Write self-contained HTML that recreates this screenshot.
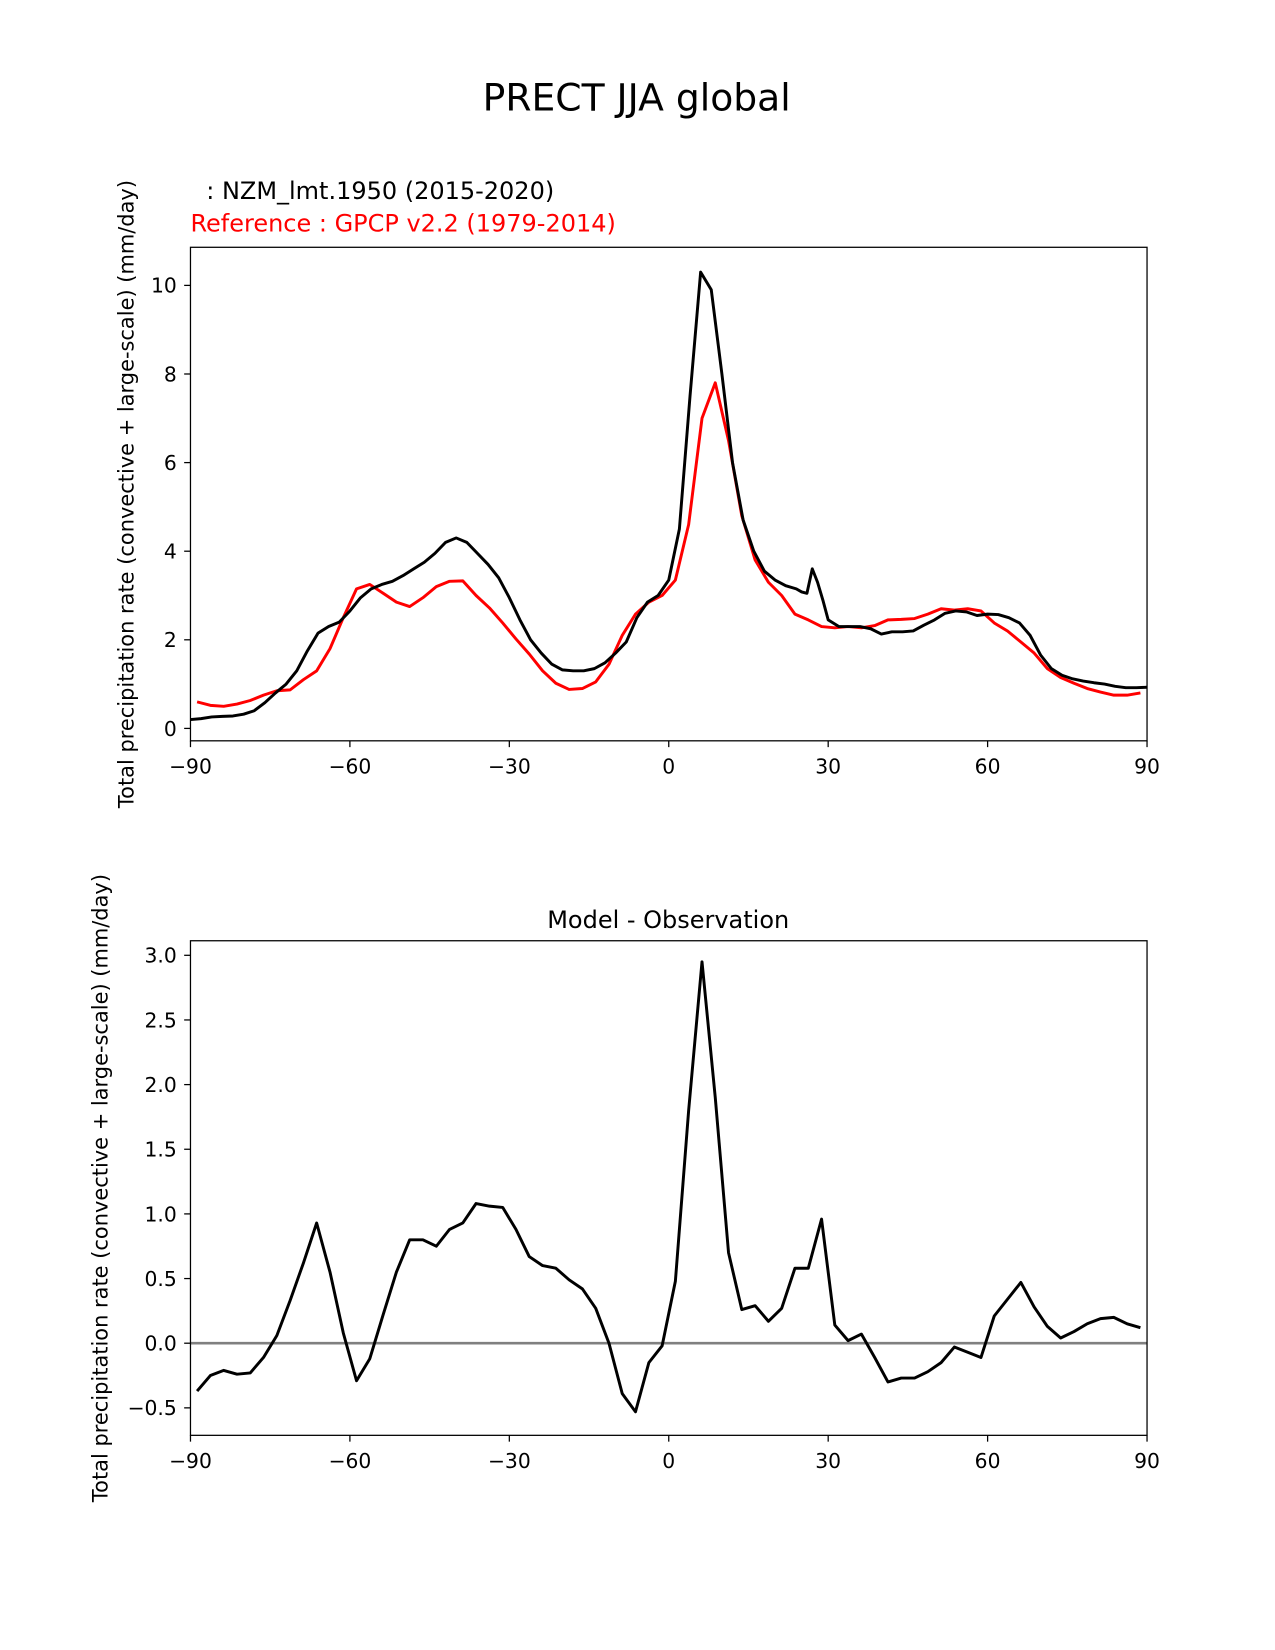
<!DOCTYPE html>
<html><head><meta charset="utf-8">
<style>
html,body{margin:0;padding:0;background:#fff;}
svg{display:block;font-family:"DejaVu Sans","Liberation Sans",sans-serif;}
</style></head>
<body>
<svg id="chart" width="1275" height="1650" viewBox="0 0 1211.6 1568" preserveAspectRatio="none"></svg>
<script>
// ---- data ----
const obsValues = [0.6,0.52,0.5,0.55,0.63,0.75,0.85,0.87,1.1,1.3,1.8,2.5,3.15,3.25,3.05,2.85,2.75,2.95,3.2,3.32,3.33,3.0,2.72,2.38,2.02,1.68,1.3,1.02,0.88,0.9,1.05,1.45,2.1,2.58,2.85,3.0,3.35,4.6,7.0,7.8,6.5,4.8,3.8,3.3,3.0,2.58,2.45,2.3,2.27,2.3,2.27,2.32,2.45,2.46,2.48,2.58,2.7,2.67,2.7,2.65,2.38,2.2,1.95,1.7,1.35,1.15,1.02,0.9,0.82,0.75,0.75,0.8];
const diffValues = [-0.37,-0.25,-0.21,-0.24,-0.23,-0.11,0.06,0.33,0.62,0.93,0.55,0.08,-0.29,-0.12,0.22,0.55,0.8,0.8,0.75,0.88,0.93,1.08,1.06,1.05,0.88,0.67,0.6,0.58,0.49,0.42,0.27,0.0,-0.39,-0.53,-0.15,-0.02,0.48,1.8,2.95,1.9,0.7,0.26,0.29,0.17,0.27,0.58,0.58,0.96,0.14,0.02,0.07,-0.11,-0.30,-0.27,-0.27,-0.22,-0.15,-0.03,-0.07,-0.11,0.21,0.34,0.47,0.28,0.13,0.04,0.09,0.15,0.19,0.20,0.15,0.12];
const modelLats = [-90,-88,-86,-84,-82,-80,-78,-76,-74,-72,-70,-68,-66,-64,-62,-60,-58,-56,-54,-52,-50,-48,-46,-44,-42,-40,-38,-36,-34,-32,-30,-28,-26,-24,-22,-20,-18,-16,-14,-12,-10,-8,-6,-4,-2,0,2,4,6,8,10,12,14,16,18,20,22,24,25,26,27,28,29,30,32,34,36,38,40,42,44,46,48,50,52,54,56,58,60,62,64,66,68,70,72,74,76,78,80,82,84,86,88,90];
const modelValues = [0.2,0.22,0.26,0.27,0.28,0.32,0.4,0.58,0.8,1.0,1.3,1.75,2.15,2.3,2.4,2.65,2.95,3.15,3.25,3.32,3.45,3.6,3.75,3.95,4.2,4.3,4.2,3.95,3.7,3.4,2.95,2.45,2.0,1.7,1.45,1.32,1.3,1.3,1.35,1.48,1.7,1.95,2.5,2.85,3.0,3.35,4.5,7.5,10.3,9.9,8.0,6.0,4.7,4.0,3.55,3.35,3.22,3.15,3.08,3.05,3.6,3.3,2.9,2.45,2.3,2.3,2.3,2.25,2.13,2.18,2.18,2.2,2.33,2.45,2.6,2.65,2.63,2.55,2.58,2.57,2.5,2.38,2.1,1.65,1.35,1.2,1.12,1.07,1.03,1.0,0.95,0.92,0.92,0.93];
const xTicks = [-90,-60,-30,0,30,60,90];
const xTickLabels = ["\u221290","\u221260","\u221230","0","30","60","90"];
const topYTicks = [0,2,4,6,8,10];
const topYTickLabels = ["0","2","4","6","8","10"];
const botYTicks = [-0.5,0,0.5,1,1.5,2,2.5,3];
const botYTickLabels = ["\u22120.5","0.0","0.5","1.0","1.5","2.0","2.5","3.0"];

const NS="http://www.w3.org/2000/svg";
const svg=document.getElementById('chart');
function mk(tag,attrs,parent){const e=document.createElementNS(NS,tag);for(const k in attrs)e.setAttribute(k,attrs[k]);(parent||svg).appendChild(e);return e;}
const obsLats = obsValues.map((_,i)=>-88.75+2.5*i);

function panel(name,top,bottom,ymin,ymax,yTicks,yLabels){
  const L=181,R=1090;
  const g=mk('g',{});
  
  
  const x=v=>L+(v+90)/180*(R-L);
  const y=v=>bottom-(v-ymin)/(ymax-ymin)*(bottom-top);
  xTicks.forEach((t,i)=>{
    const tk=mk('line',{x1:x(t),x2:x(t),y1:bottom,y2:bottom+6,stroke:'#000','stroke-width':1.2},g);
    
    
    const tx=mk('text',{x:x(t),y:bottom+31,'text-anchor':'middle','font-size':19.3},g);
    tx.textContent=xTickLabels[i];
    
    
  });
  yTicks.forEach((t,i)=>{
    const tk=mk('line',{x1:L-6,x2:L,y1:y(t),y2:y(t),stroke:'#000','stroke-width':1.2},g);
    
    
    const tx=mk('text',{x:L-13,y:y(t)+7,'text-anchor':'end','font-size':19.3},g);
    tx.textContent=yLabels[i];
    
    
  });
  return {g,x,y,L,R,top,bottom};
}
function line(p,xs,ys,color,name,w){
  const d=xs.map((v,i)=>(i?'L':'M')+p.x(v).toFixed(1)+' '+p.y(ys[i]).toFixed(1)).join(' ');
  const e=mk('path',{d,fill:'none',stroke:color,'stroke-width':w||2.8,'stroke-linejoin':'round'},p.g);
  
  
}
function frame(p){
  const e=mk('rect',{x:p.L,y:p.top,width:p.R-p.L,height:p.bottom-p.top,fill:'none',stroke:'#000','stroke-width':1.2},p.g);
  
  
}
function ylabel(p,xpos,name){
  const cy=(p.top+p.bottom)/2;
  const t=mk('text',{x:xpos,y:cy,'text-anchor':'middle','font-size':19.9,transform:`rotate(-90 ${xpos} ${cy})`},p.g);
  t.textContent='Total precipitation rate (convective + large-scale) (mm/day)';
  
  
}

const title=mk('text',{x:605,y:105,'text-anchor':'middle','font-size':35.8});
title.textContent='PRECT JJA global';



const p1=panel('top-panel',235,704,-0.28,10.86,topYTicks,topYTickLabels);
line(p1,obsLats,obsValues,'#ff0000','obs-line');
line(p1,modelLats,modelValues,'#000000','model-line');
frame(p1);
ylabel(p1,127,'top-y-axis-title');
const t1=mk('text',{x:196,y:189,'font-size':22.8},p1.g);
t1.textContent=': NZM_lmt.1950 (2015-2020)';


const t2=mk('text',{x:181,y:220,'font-size':22.8,fill:'#ff0000'},p1.g);
t2.textContent='Reference : GPCP v2.2 (1979-2014)';



const p2=panel('bottom-panel',894,1364,-0.7125,3.1125,botYTicks,botYTickLabels);
const zl=mk('line',{x1:p2.L,x2:p2.R,y1:p2.y(0),y2:p2.y(0),stroke:'#808080','stroke-width':2.5},p2.g);


line(p2,obsLats,diffValues,'#000000','difference-line');
frame(p2);
ylabel(p2,102,'bottom-y-axis-title');
const t3=mk('text',{x:635,y:882,'text-anchor':'middle','font-size':22.8},p2.g);
t3.textContent='Model - Observation';


</script>
</body></html>
